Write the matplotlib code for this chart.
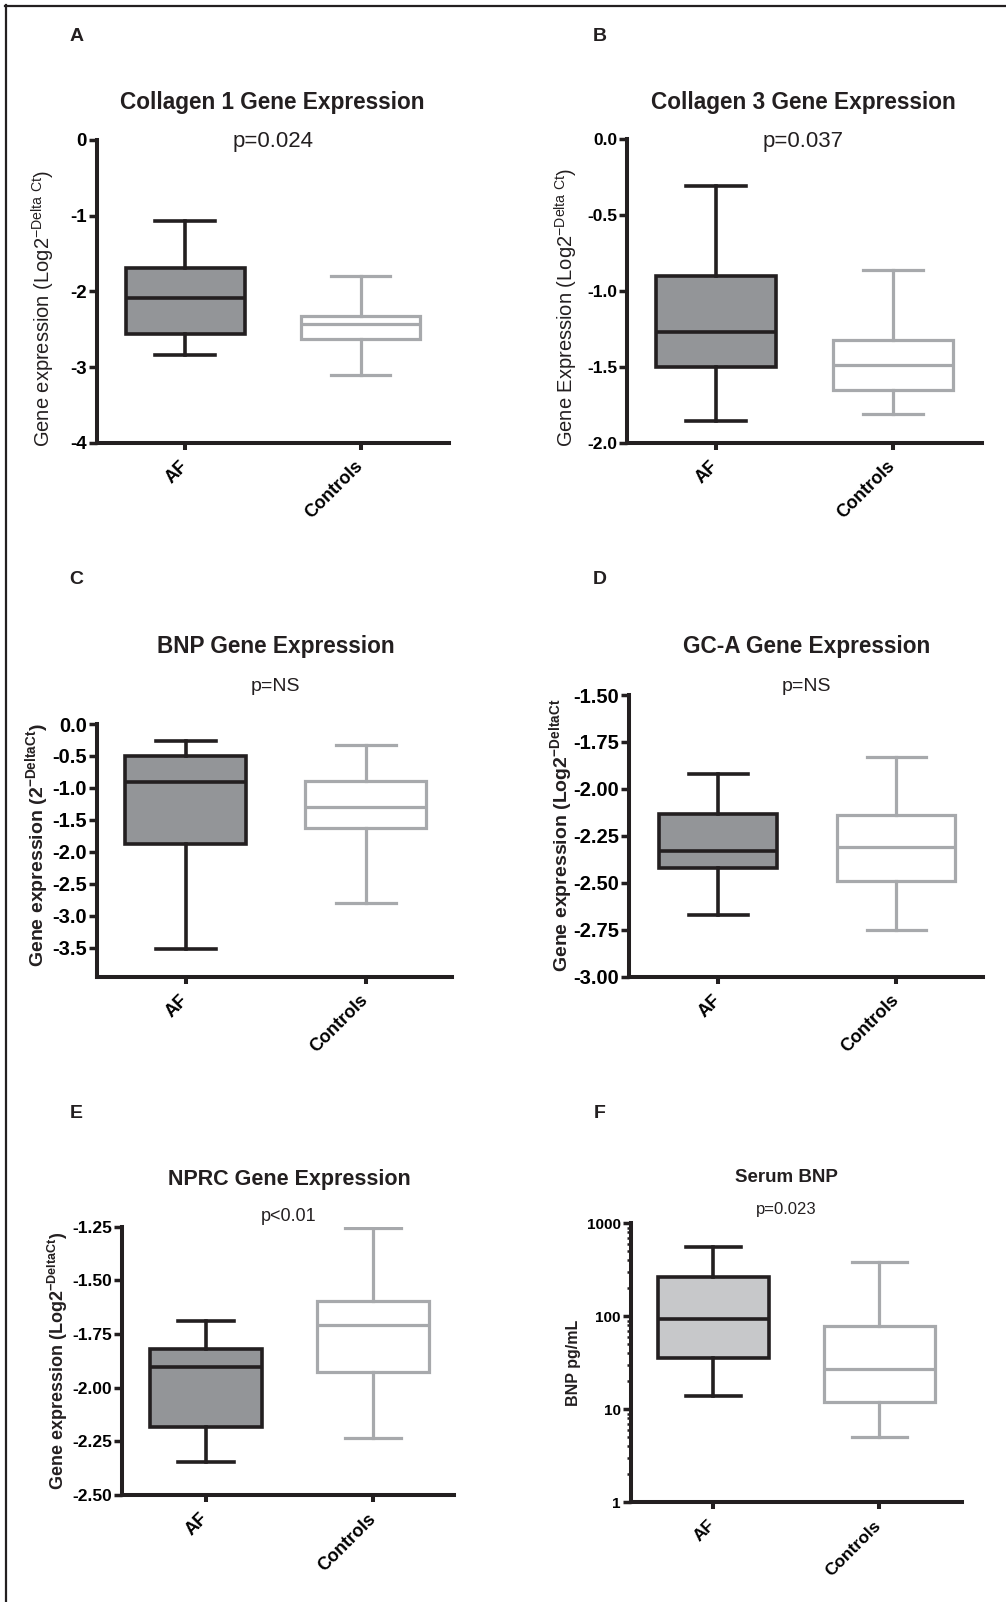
import matplotlib
matplotlib.use('Agg')
import matplotlib.pyplot as plt
from matplotlib.ticker import FormatStrFormatter, FixedLocator, LogLocator, NullFormatter
from matplotlib.transforms import ScaledTranslation
import numpy as np

plt.rcParams['font.family'] = ['Liberation Sans', 'DejaVu Sans']
plt.rcParams['mathtext.fontset'] = 'custom'
plt.rcParams['mathtext.rm'] = 'Liberation Sans'
plt.rcParams['axes.unicode_minus'] = False

W, H = 1006, 1602
DARK = '#231f20'
GREY_EDGE = '#a7a9ac'
AF_FILL = '#939598'
AF_FILL_LIGHT = '#c7c8ca'

groups = ['AF', 'Controls']

# box stats: [whisker low, q1, median, q3, whisker high]
col1_af = [-2.84, -2.57, -2.09, -1.69, -1.07]
col1_ctrl = [-3.10, -2.63, -2.43, -2.33, -1.80]
col3_af = [-1.855, -1.50, -1.27, -0.90, -0.31]
col3_ctrl = [-1.81, -1.65, -1.49, -1.32, -0.86]
bnp_af = [-3.51, -1.87, -0.90, -0.50, -0.26]
bnp_ctrl = [-2.80, -1.63, -1.29, -0.89, -0.33]
gca_af = [-2.67, -2.42, -2.33, -2.135, -1.92]
gca_ctrl = [-2.75, -2.49, -2.31, -2.14, -1.83]
nprc_af = [-2.345, -2.185, -1.905, -1.82, -1.69]
nprc_ctrl = [-2.233, -1.929, -1.708, -1.596, -1.255]
serum_af = [13.9, 36, 94, 262, 561]
serum_ctrl = [5.0, 12.1, 26.9, 79.4, 381]

fig = plt.figure(figsize=(W / 100, H / 100), dpi=100)


def fx(x):
    return x / W


def fy(y):
    return 1 - y / H


def panel(rect, ticks_px, ylim, yticks, fmt, af, ctrl, box_px, af_fill,
          tick_size=13, xlab_size=13, log=False):
    left, right, top, bottom = rect
    ax = fig.add_axes([fx(left), fy(bottom), fx(right - left), (bottom - top) / H])
    af_px, ctrl_px = ticks_px
    unit = ctrl_px - af_px
    ax.set_xlim(1 - (af_px - left) / unit, 2 + (right - ctrl_px) / unit)
    if log:
        ax.set_yscale('log')
    ax.set_ylim(*ylim)

    width = box_px / unit
    for pos, s, fill, edge, lw in [(1, af, af_fill, DARK, 2.6),
                                   (2, ctrl, 'white', GREY_EDGE, 2.3)]:
        stats = [dict(whislo=s[0], q1=s[1], med=s[2], q3=s[3], whishi=s[4], fliers=[])]
        ax.bxp(stats, positions=[pos], widths=width, capwidths=width * 0.5,
               patch_artist=True, showfliers=False,
               boxprops=dict(facecolor=fill, edgecolor=edge, linewidth=lw),
               medianprops=dict(color=edge, linewidth=lw),
               whiskerprops=dict(color=edge, linewidth=lw),
               capprops=dict(color=edge, linewidth=lw))

    for sp in ['top', 'right']:
        ax.spines[sp].set_visible(False)
    for sp in ['left', 'bottom']:
        ax.spines[sp].set_linewidth(2.9)
        ax.spines[sp].set_color(DARK)
    ax.set_xticks([1, 2])
    ax.set_xticklabels(groups, rotation=45, ha='right', rotation_mode='anchor',
                       fontsize=xlab_size, fontweight='bold')
    ax.tick_params(axis='x', length=5, width=2.9, color=DARK, pad=6)
    shift = ScaledTranslation(-6 / 100, 0, fig.dpi_scale_trans)
    for lb in ax.get_xticklabels():
        lb.set_transform(lb.get_transform() + shift)
    if log:
        ax.yaxis.set_major_locator(FixedLocator(yticks))
        ax.yaxis.set_major_formatter(FormatStrFormatter(fmt))
        ax.yaxis.set_minor_locator(LogLocator(base=10, subs=np.arange(2, 10)))
        ax.yaxis.set_minor_formatter(NullFormatter())
        ax.tick_params(axis='y', which='minor', length=3, width=1.8, color=DARK)
    else:
        ax.set_yticks(yticks)
        ax.yaxis.set_major_formatter(FormatStrFormatter(fmt))
    ax.tick_params(axis='y', which='major', length=6, width=2.5, color=DARK, pad=1)
    for lb in ax.get_yticklabels():
        lb.set_fontweight('bold')
        lb.set_fontsize(tick_size)
    ax.set_facecolor('none')
    return ax


def label(x, y, s, **kw):
    fig.text(fx(x), fy(y), s, ha='center', va='center', color=DARK, **kw)


# A
panel((96.7, 449, 140, 442.7), (185, 360.7), (-4, 0), [0, -1, -2, -3, -4], '%d',
      col1_af, col1_ctrl, 119, AF_FILL, tick_size=13.5)
label(76.6, 36.8, 'A', fontsize=14, fontweight='bold')
label(272, 103, 'Collagen 1 Gene Expression', fontsize=16.3, fontweight='bold')
label(273, 142, 'p=0.024', fontsize=16)
label(43, 308.5, r'Gene expression (Log2$^{\mathregular{-Delta\ Ct}}$)', fontsize=14.5,
      rotation=90)

# B
panel((627, 982, 139.3, 442.7), (715.7, 892.7), (-2, 0), [0, -0.5, -1, -1.5, -2], '%.1f',
      col3_af, col3_ctrl, 120, AF_FILL, tick_size=12.5)
label(599.5, 36.8, 'B', fontsize=14, fontweight='bold')
label(803, 102.7, 'Collagen 3 Gene Expression', fontsize=16.3, fontweight='bold')
label(803, 141.7, 'p=0.037', fontsize=16)
label(566.7, 307.5, r'Gene Expression (Log2$^{\mathregular{-Delta\ Ct}}$)', fontsize=14.5,
      rotation=90)

# C
panel((96.7, 452, 724, 976.7), (185.7, 365.7), (-3.95, 0),
      [0, -0.5, -1, -1.5, -2, -2.5, -3, -3.5], '%.1f',
      bnp_af, bnp_ctrl, 120.7, AF_FILL, tick_size=14.5)
label(76.6, 580, 'C', fontsize=14, fontweight='bold')
label(275.7, 646.7, 'BNP Gene Expression', fontsize=16.3, fontweight='bold')
label(275.7, 686.7, 'p=NS', fontsize=14)
label(38, 845.5, r'Gene expression (2$^{\mathregular{-DeltaCt}}$)', fontsize=14,
      fontweight='bold', rotation=90)

# D
panel((629, 983, 695, 976.7), (718.3, 896), (-3, -1.5),
      [-1.5, -1.75, -2, -2.25, -2.5, -2.75, -3], '%.2f',
      gca_af, gca_ctrl, 118, AF_FILL, tick_size=14.5)
label(599.5, 580, 'D', fontsize=14, fontweight='bold')
label(806.7, 646, 'GC-A Gene Expression', fontsize=16.3, fontweight='bold')
label(806.7, 686.7, 'p=NS', fontsize=14)
label(561.7, 835.8, r'Gene expression (Log2$^{\mathregular{-DeltaCt}}$', fontsize=14,
      fontweight='bold', rotation=90)

# E
panel((121.7, 454, 1226.7, 1495), (205.7, 373.3), (-2.5, -1.25),
      [-1.25, -1.5, -1.75, -2, -2.25, -2.5], '%.2f',
      nprc_af, nprc_ctrl, 112, AF_FILL, tick_size=12.5)
label(76.6, 1113, 'E', fontsize=14, fontweight='bold')
label(289, 1179, 'NPRC Gene Expression', fontsize=15.5, fontweight='bold')
label(289, 1216.7, 'p<0.01', fontsize=13)
label(58, 1361, r'Gene expression (Log2$^{\mathregular{-DeltaCt}}$)', fontsize=13,
      fontweight='bold', rotation=90)

# F
panel((630.7, 961.7, 1223.3, 1502.3), (713.3, 879.3), (1, 1000), [1, 10, 100, 1000], '%d',
      serum_af, serum_ctrl, 110.5, AF_FILL_LIGHT, tick_size=11, xlab_size=12.5, log=True)
label(599.5, 1113, 'F', fontsize=14, fontweight='bold')
label(786, 1177.3, 'Serum BNP', fontsize=13.5, fontweight='bold')
label(786, 1209.3, 'p=0.023', fontsize=12)
label(573.3, 1363, 'BNP pg/mL', fontsize=11.5, fontweight='bold', rotation=90)

# frame lines at top and left
fig.add_artist(plt.Line2D([fx(5), 1], [fy(5.5), fy(5.5)], color=DARK, linewidth=1.6))
fig.add_artist(plt.Line2D([fx(6), fx(6)], [fy(5), 0], color=DARK, linewidth=1.6))

fig.savefig('out.png', dpi=100, facecolor='white')
